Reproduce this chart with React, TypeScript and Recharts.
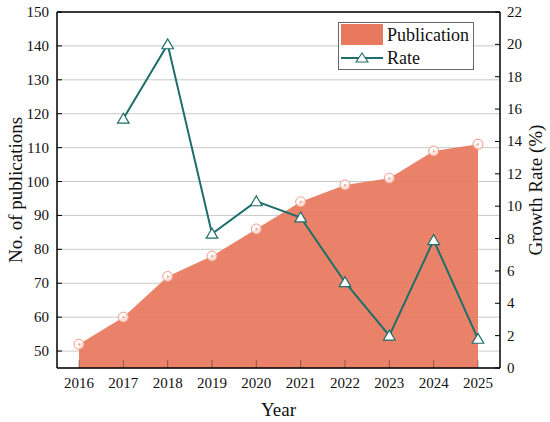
import {
  ComposedChart,
  Area,
  Line,
  XAxis,
  YAxis,
  CartesianGrid,
  ReferenceLine,
} from "recharts";

// Publications per year (area, left axis) and year-on-year growth (line, right axis).
const years = ["2016", "2017", "2018", "2019", "2020", "2021", "2022", "2023", "2024", "2025"];
const publications = [52, 60, 72, 78, 86, 94, 99, 101, 109, 111];
const growthRate = [null, 15.4, 20.0, 8.3, 10.3, 9.3, 5.3, 2.0, 7.9, 1.8];

const leftTicks = [50, 60, 70, 80, 90, 100, 110, 120, 130, 140, 150];
const rightTicks = [0, 2, 4, 6, 8, 10, 12, 14, 16, 18, 20, 22];

const data = years.map((year, i) => ({
  year,
  publication: publications[i],
  rate: growthRate[i],
}));

const FONT = "'Liberation Serif', 'Times New Roman', serif";
const AREA = "#E8785E";
const TEAL = "#1E6E6B";

// Recharts' own tick text kept falling back to sans, so draw the tick labels directly
function makeTick(anchor: "start" | "middle" | "end", dx: number, dy: number) {
  return ({ x, y, payload }: any) => (
    <text
      x={x + dx}
      y={y + dy}
      textAnchor={anchor}
      fontFamily={FONT}
      fontSize={15}
      fill="#111"
    >
      {payload.value}
    </text>
  );
}

function Triangle({ cx, cy, value }: any) {
  if (value == null || cx == null || cy == null) return null;
  const s = 5.5;
  const pts = `${cx},${cy - s} ${cx - s * 1.05},${cy + s * 0.8} ${cx + s * 1.05},${cy + s * 0.8}`;
  return <polygon points={pts} fill="#fff" stroke={TEAL} strokeWidth={1.2} />;
}

function Ring({ cx, cy }: any) {
  if (cx == null || cy == null) return null;
  return (
    <g>
      <circle cx={cx} cy={cy} r={5} fill="#fff" fillOpacity={0.75} stroke="#F29A84" strokeWidth={1} />
      <circle cx={cx} cy={cy} r={1} fill="#F29A84" />
    </g>
  );
}

// Legend drawn by hand so it doesn't eat into the plot height
function LegendBox() {
  return (
    <svg
      width={136}
      height={48}
      style={{ position: "absolute", left: 338, top: 22 }}
    >
      <rect x={0.5} y={0.5} width={135} height={47} fill="#fff" stroke="#666" />
      <rect x={3} y={2} width={42} height={21} fill={AREA} />
      <line x1={3} y1={36} x2={45} y2={36} stroke={TEAL} strokeWidth={2} />
      <polygon points="24,31 18,40 30,40" fill="#fff" stroke={TEAL} strokeWidth={1.1} />
      <text x={49} y={19} fontFamily={FONT} fontSize={18} fill="#111">
        Publication
      </text>
      <text x={49} y={42} fontFamily={FONT} fontSize={18} fill="#111">
        Rate
      </text>
    </svg>
  );
}

export default function App() {
  return (
    <div
      style={{
        position: "absolute",
        left: 0,
        top: 0,
        width: 550,
        height: 422,
        background: "#fff",
        fontFamily: FONT,
      }}
    >
      <ComposedChart
        width={550}
        height={422}
        data={data}
        margin={{ top: 12, right: 0, bottom: 0, left: 0 }}
      >
        <CartesianGrid yAxisId="left" vertical={false} stroke="#c9c9c9" strokeWidth={1} />
        <XAxis
          dataKey="year"
          height={54}
          padding={{ left: 22, right: 22 }}
          tick={makeTick("middle", 0, 20)}
          tickSize={-8}
          tickMargin={8}
          axisLine={{ stroke: "#000", strokeWidth: 1.5 }}
          tickLine={{ stroke: "#000", strokeOpacity: 0.35 }}
          label={{ value: "Year", position: "insideBottom", offset: 6, style: { fontFamily: FONT, fontSize: 19, fill: "#111" } }}
        />
        <YAxis
          yAxisId="left"
          width={57}
          domain={[45, 150]}
          ticks={leftTicks}
          interval={0}
          tick={makeTick("end", 0, 5)}
          tickSize={-5}
          tickMargin={13}
          axisLine={{ stroke: "#000", strokeWidth: 1.5 }}
          tickLine={{ stroke: "#000" }}
          label={{
            value: "No. of publications",
            angle: -90,
            position: "insideLeft",
            offset: 15,
            style: { textAnchor: "middle", fontFamily: FONT, fontSize: 19, fill: "#111" },
          }}
        />
        <YAxis
          yAxisId="right"
          orientation="right"
          width={50}
          domain={[0, 22]}
          ticks={rightTicks}
          interval={0}
          tick={makeTick("start", 0, 5)}
          tickSize={-5}
          tickMargin={12}
          axisLine={{ stroke: "#000", strokeWidth: 1.5 }}
          tickLine={{ stroke: "#000" }}
          label={{
            value: "Growth Rate (%)",
            angle: -90,
            position: "insideRight",
            offset: 15,
            style: { textAnchor: "middle", fontFamily: FONT, fontSize: 19, fill: "#111" },
          }}
        />
        <ReferenceLine yAxisId="left" y={150} stroke="#000" strokeWidth={1.5} />
        <Area
          yAxisId="left"
          type="linear"
          dataKey="publication"
          fill={AREA}
          fillOpacity={0.93}
          stroke="none"
          dot={<Ring />}
          activeDot={false}
          isAnimationActive={false}
        />
        <Line
          yAxisId="right"
          type="linear"
          dataKey="rate"
          stroke={TEAL}
          strokeWidth={2}
          dot={<Triangle />}
          activeDot={false}
          isAnimationActive={false}
        />
      </ComposedChart>
      <LegendBox />
    </div>
  );
}
